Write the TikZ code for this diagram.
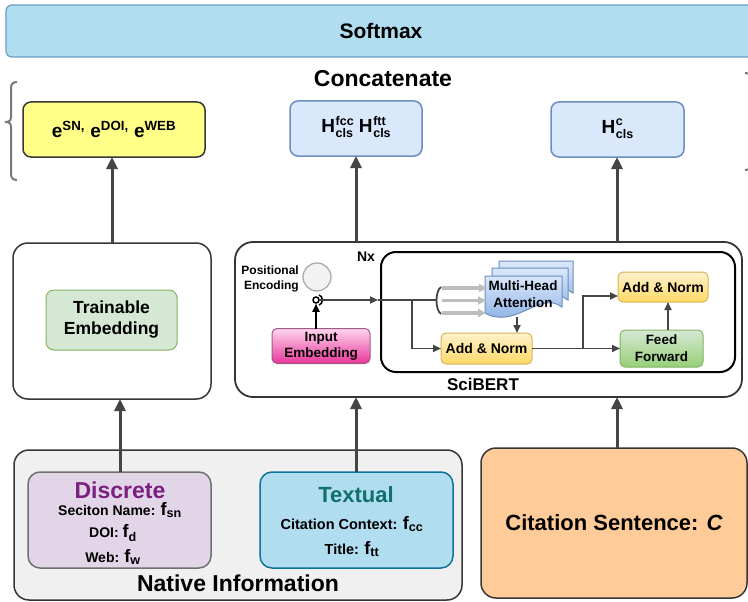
\documentclass[tikz,border=0pt]{standalone}
\usepackage{fontspec}
\setmainfont{Liberation Sans}
\usepackage{amsmath}
\usetikzlibrary{arrows.meta,calc}

\definecolor{arrowgray}{HTML}{454545}
\definecolor{edgedark}{HTML}{363636}
\definecolor{softfill}{HTML}{B1DDF0}
\definecolor{softedge}{HTML}{6A9EC2}
\definecolor{embyellow}{HTML}{FFFF88}
\definecolor{bluefill}{HTML}{DAE8FC}
\definecolor{blueedge}{HTML}{6C8EBF}
\definecolor{bluebot}{HTML}{7EA6E0}
\definecolor{greenfill}{HTML}{D5E8D4}
\definecolor{greenbot}{HTML}{97D077}
\definecolor{greenedge}{HTML}{82B366}
\definecolor{yellowtop}{HTML}{FFF2CC}
\definecolor{yellowbot}{HTML}{FFD966}
\definecolor{yellowedge}{HTML}{D6B656}
\definecolor{pinktop}{HTML}{FFD6EE}
\definecolor{pinkbot}{HTML}{E8369A}
\definecolor{pinkedge}{HTML}{A05A86}
\definecolor{circfill}{HTML}{F2F2F2}
\definecolor{circedge}{HTML}{A6A6A6}
\definecolor{nativefill}{HTML}{F0F0F0}
\definecolor{discfill}{HTML}{E1D5E7}
\definecolor{discedge}{HTML}{707070}
\definecolor{discpurple}{HTML}{7B1F80}
\definecolor{textfill}{HTML}{B1DDF0}
\definecolor{textedge}{HTML}{10739E}
\definecolor{textteal}{HTML}{10706C}
\definecolor{citfill}{HTML}{FFCC99}
\definecolor{bracegray}{HTML}{7A7A7A}
\definecolor{qgray}{HTML}{BDBDBD}

\newcommand{\fsz}[2]{\fontsize{#1}{#2}\selectfont}
% H with a stacked superscript and subscript
\newcommand{\Hsupsub}[2]{H\kern0.6pt\raisebox{-5pt}{\fsz{12.5}{11.5}%
  \begin{tabular}[b]{@{}l@{}}#1\\#2\end{tabular}}}
% stacked document shape (used for the attention heads)
\newcommand{\docsheet}[4]{%
  \path[draw=blueedge, line width=1pt, top color=bluefill, bottom color=bluebot]
    (#1,#2) -- (#3,#2) -- (#3,#4-6)
    .. controls (#3-22,#4-23) and (#1+30,#4+17) .. (#1,#4) -- cycle;}

\begin{document}
\begin{tikzpicture}[x=1pt,y=-1pt,
  box/.style={draw, rounded corners=#1, line width=1.5pt, inner sep=0pt, outer sep=0pt, align=center},
  bigarrow/.style={draw=arrowgray, line width=3pt, -{Triangle[length=12pt,width=11pt]}},
  smallarrow/.style={draw=arrowgray, line width=1.8pt, -{Triangle[length=8pt,width=7pt]}},
  plainline/.style={draw=arrowgray, line width=1.8pt},
  qarrow/.style={draw=qgray, line width=3.2pt, -{Triangle[length=8pt,width=8pt]}},
  lbl/.style={inner sep=0pt, align=center},
]
\useasboundingbox (0,0) rectangle (748,602);
\fill[white] (0,0) rectangle (748,602);

% ---------- top ----------
\node[box=6pt, draw=softedge, fill=softfill, line width=1.2pt, minimum width=750pt, minimum height=52pt,
      font=\bfseries\fsz{21}{21}] (softmax) at (381,31) {Softmax};
\node[lbl, font=\bfseries\fsz{23}{23}] (concat) at (383,79) {Concatenate};

% braces around the concatenated vectors
\draw[bracegray, line width=2pt] (17,82) .. controls (13,82) and (11,84) .. (11,88) -- (11,117)
   .. controls (11,121) and (9,122) .. (5,122) .. controls (9,122) and (11,123) .. (11,127)
   -- (11,174) .. controls (11,178) and (13,180) .. (17,180);
\draw[bracegray, line width=2pt] (745,73) .. controls (749,73) and (751,75) .. (751,79) -- (751,115)
   .. controls (751,119) and (753,120) .. (757,120) .. controls (753,120) and (751,121) .. (751,125)
   -- (751,164) .. controls (751,168) and (749,170) .. (745,170);

\node[box=8pt, draw=edgedark, fill=embyellow, minimum width=182pt, minimum height=55pt,
      font=\bfseries\fsz{19}{19}] (emb) at (114,129.5)
      {e$^{\text{SN,}}$ e$^{\text{DOI,}}$ e$^{\text{WEB}}$};
\node[box=8pt, draw=blueedge, fill=bluefill, minimum width=132pt, minimum height=55pt,
      font=\bfseries\fsz{19}{19}] (hcc) at (356,128.5)
      {\Hsupsub{fcc}{cls}\ \Hsupsub{ftt}{cls}};
\node[box=8pt, draw=blueedge, fill=bluefill, minimum width=133pt, minimum height=55pt,
      font=\bfseries\fsz{19}{19}] (hc) at (617.5,129.5) {\Hsupsub{c}{cls}};

% ---------- middle: encoders ----------
\node[box=15pt, draw=edgedark, fill=white, minimum width=198pt, minimum height=156pt] (leftbox) at (112,321) {};
\node[box=8pt, line width=1pt, draw=greenedge, fill=greenfill, minimum width=131pt, minimum height=60pt,
      font=\bfseries\fsz{17.5}{21}] (train) at (111.5,320) {Trainable\\Embedding};

\node[box=18pt, draw=edgedark, line width=1.8pt, fill=white, minimum width=507pt, minimum height=155pt] (scibert) at (488.5,319.5) {};
\node[box=15pt, draw=black, line width=2pt, minimum width=354pt, minimum height=120pt] (layer) at (558,312) {};
\node[lbl, font=\bfseries\fsz{14}{14}] (nx) at (366,257) {Nx};
\node[lbl, font=\bfseries\fsz{17}{17}] (scilabel) at (483,384) {SciBERT};

% positional encoding and input embedding
\node[circle, draw=circedge, fill=circfill, line width=1.2pt, minimum size=28pt, inner sep=0pt] (pe) at (317,277) {};
\node[anchor=east, align=right, inner sep=0pt, font=\bfseries\fsz{12}{15}] (pelabel) at (299,279) {Positional\\Encoding};
\node[circle, draw=black, line width=1.5pt, minimum size=6pt, inner sep=0pt] (addpe) at (316,300) {};
\draw[black, line width=1.5pt] (319,295) .. controls (323.5,296) and (323.5,304) .. (319,305);
\node[box=5pt, line width=1pt, draw=pinkedge, top color=pinktop, bottom color=pinkbot, minimum width=98pt, minimum height=35pt,
      font=\bfseries\fsz{13.5}{16}] (inemb) at (321,346) {Input\\Embedding};
\draw[smallarrow, draw=black] (inemb.north -| addpe) -- (addpe.south);

% attention heads
\docsheet{499}{261}{573}{299}
\docsheet{492}{268}{568}{306}
\docsheet{485}{276}{562}{313}
\node[lbl, font=\bfseries\fsz{13.5}{17}] (mha) at (523,294) {Multi-Head\\Attention};

\node[box=5pt, line width=1pt, draw=yellowedge, top color=yellowtop, bottom color=yellowbot, minimum width=91pt, minimum height=31pt,
      font=\bfseries\fsz{14}{14}] (an1) at (486.5,348.5) {Add \& Norm};
\node[box=5pt, line width=1pt, draw=yellowedge, top color=yellowtop, bottom color=yellowbot, minimum width=90pt, minimum height=30pt,
      font=\bfseries\fsz{14}{14}] (an2) at (663,287) {Add \& Norm};
\node[box=5pt, line width=1pt, draw=greenedge, top color=greenfill, bottom color=greenbot, minimum width=83pt, minimum height=37pt,
      font=\bfseries\fsz{13.5}{17}] (ff) at (661.5,348.5) {Feed\\Forward};

% data flow inside the layer
\coordinate (mainmid) at (378,300);
\coordinate (split1) at (412,300);
\coordinate (brk) at (437,300);
\draw[smallarrow] (addpe.east) -- (mainmid);
\draw[plainline] (mainmid) -- (brk);
\draw[plainline] (441,287) .. controls (435,291) and (435,310) .. (441,314);
\coordinate (q1s) at (442,288); \coordinate (q1e) at (487,288);
\coordinate (q2s) at (442,300.5); \coordinate (q2e) at (486,300.5);
\coordinate (q3s) at (442,313); \coordinate (q3e) at (486,313);
\draw[qarrow] (q1s) -- (q1e);
\draw[qarrow] (q2s) -- (q2e);
\draw[qarrow] (q3s) -- (q3e);
\draw[smallarrow] (split1) |- (an1.west);
\coordinate (mhaout) at (517,317);
\draw[smallarrow] (mhaout) -- (an1.north -| mhaout);
\coordinate (split2) at (583,348.5);
\draw[smallarrow] (an1.east) -- (ff.west);
\draw[smallarrow] (split2) |- ($(an2.west)+(0,9)$);
\coordinate (ffup) at (668,0);
\draw[smallarrow] (ff.north -| ffup) -- (an2.south -| ffup);

% ---------- bottom: inputs ----------
\node[box=15pt, draw=edgedark, fill=nativefill, minimum width=448pt, minimum height=150pt] (native) at (238,525) {};
\node[lbl, font=\bfseries\fsz{23}{23}] (nativelbl) at (238,583) {Native Information};

\node[box=12pt, draw=discedge, fill=discfill, minimum width=183pt, minimum height=96pt] (discrete) at (119.5,520) {};
\node[lbl, font=\bfseries\fsz{23}{23}, text=discpurple] (disctitle) at (120,490) {Discrete};
\node[lbl, font=\bfseries\fsz{14}{14}] (fsn) at (120,510) {Seciton Name: {\fsz{18}{18}f$_{\text{sn}}$}};
\node[lbl, font=\bfseries\fsz{14}{14}] (fd) at (113,533) {DOI: {\fsz{18}{18}f$_{\text{d}}$}};
\node[lbl, font=\bfseries\fsz{14}{14}] (fw) at (113,557) {Web: {\fsz{18}{18}f$_{\text{w}}$}};

\node[box=12pt, draw=textedge, fill=textfill, minimum width=193pt, minimum height=96pt] (textual) at (356.5,520) {};
\node[lbl, font=\bfseries\fsz{22}{22}, text=textteal] (texttitle) at (356,495) {Textual};
\node[lbl, font=\bfseries\fsz{14.5}{14.5}] (fcc) at (352,524) {Citation Context: {\fsz{18}{18}f$_{\text{cc}}$}};
\node[lbl, font=\bfseries\fsz{14.5}{14.5}] (ftt) at (352,549) {Title: {\fsz{18}{18}f$_{\text{tt}}$}};

\node[box=15pt, draw=edgedark, fill=citfill, minimum width=266pt, minimum height=150pt,
      font=\bfseries\fsz{22}{22}] (citsent) at (614,523) {Citation Sentence: {\itshape C}};

% ---------- connections between stages ----------
\coordinate (xl) at (112,0);
\coordinate (xd) at (120,0);
\coordinate (xm) at (356,0);
\coordinate (xr) at (617,0);
\draw[bigarrow] (leftbox.north -| xl) -- (emb.south -| xl);
\draw[bigarrow] (discrete.north -| xd) -- (leftbox.south -| xd);
\draw[bigarrow] (scibert.north -| xm) -- (hcc.south -| xm);
\draw[bigarrow] (textual.north -| xm) -- (scibert.south -| xm);
\draw[bigarrow] (scibert.north -| xr) -- (hc.south -| xr);
\draw[bigarrow] (citsent.north -| xr) -- (scibert.south -| xr);
\end{tikzpicture}
\end{document}
